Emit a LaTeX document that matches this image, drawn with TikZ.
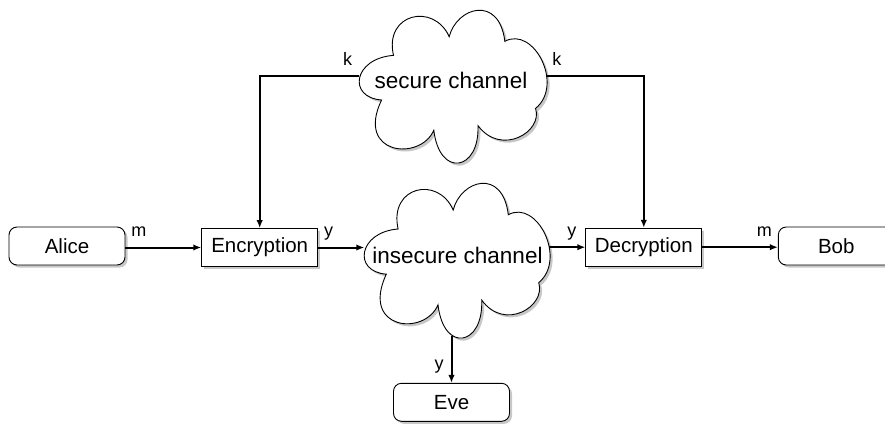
\documentclass[tikz,border=0pt]{standalone}
\usepackage{fontspec}
\setmainfont{Liberation Sans}
\usetikzlibrary{arrows.meta,shadows}

% cloud outline in unit coordinates (x to the right, y downwards)
\newcommand\cloudoutline{(0.19,0.31)
  .. controls (0.14,0.04) and (0.40,-0.03) .. (0.48,0.19)
  .. controls (0.52,0.0) and (0.74,-0.08) .. (0.77,0.22)
  .. controls (0.92,0.12) and (1.08,0.5) .. (0.93,0.65)
  .. controls (0.97,0.80) and (0.75,0.96) .. (0.63,0.76)
  .. controls (0.64,1.05) and (0.43,1.1) .. (0.40,0.79)
  .. controls (0.33,0.99) and (-0.01,0.95) .. (0.128,0.596)
  .. controls (-0.05,0.58) and (-0.02,0.33) .. (0.19,0.31) -- cycle}

% #1 name, #2 top-left corner, #3 width, #4 height
\newcommand\drawcloud[4]{%
  \begin{scope}[shift={#2}, x=#3, y=-#4]
    \fill[black!22, xshift=2.5pt, yshift=-2.5pt] \cloudoutline;
    \draw[line width=0.9pt, fill=white] \cloudoutline;
    \coordinate (#1-l) at (0.012,0.445);
    \coordinate (#1-r) at (0.985,0.445);
    \coordinate (#1-b) at (0.5,0.99);
  \end{scope}}

\tikzset{
  party/.style={draw, line width=0.9pt, fill=white, rounded corners=8pt,
    minimum width=116pt, minimum height=38pt, inner sep=0pt,
    font=\fontsize{20.5}{24}\selectfont,
    drop shadow={shadow xshift=2.5pt, shadow yshift=-2.5pt, fill=black, opacity=0.22}},
  cipherbox/.style={party, rounded corners=0pt},
  chantext/.style={inner sep=0pt, font=\fontsize{22.5}{26}\selectfont},
  conn/.style={line width=2pt, -{Latex[length=8pt,width=6.5pt]}},
  lbl/.style={inner sep=0pt, font=\fontsize{18}{21}\selectfont},
}

\begin{document}
\begin{tikzpicture}[x=1pt, y=-1pt]
  \useasboundingbox (0,0) rectangle (885,423);

  % channels
  \drawcloud{sec}{(357,7)}{192pt}{156pt}
  \drawcloud{ins}{(362,180)}{190pt}{158pt}
  \node[chantext] (secure) at (451,80) {secure channel};
  \node[chantext] (insecure) at (457.5,255.5) {insecure channel};

  % parties and cipher boxes
  \node[party] (alice) at (67,246) {Alice};
  \node[cipherbox] (enc) at (259.7,247.5) {Encryption};
  \node[cipherbox] (dec) at (643.8,247.2) {Decryption};
  \node[party] (bob) at (836.3,246) {Bob};
  \node[party] (eve) at (451.5,402.3) {Eve};

  % message flow
  \draw[conn] (alice.east |- enc.west) -- (enc.west)
    node[lbl, at start, anchor=base west, xshift=5pt, yshift=11pt] (lm1) {m};
  \draw[conn] (enc.east) -- (enc.east -| ins-l)
    node[lbl, at start, anchor=base west, xshift=5pt, yshift=11pt] (ly1) {y};
  \draw[conn] (dec.west -| ins-r) -- (dec.west)
    node[lbl, at end, anchor=base east, xshift=-8pt, yshift=11pt] (ly2) {y};
  \draw[conn] (dec.east) -- (dec.east -| bob.west)
    node[lbl, at end, anchor=base east, xshift=-5pt, yshift=11pt] (lm2) {m};
  \draw[conn] (eve.north |- ins-b) -- (eve.north)
    node[lbl, at end, anchor=base east, xshift=-7pt, yshift=13pt] (ly3) {y};

  % key distribution
  \draw[conn] (sec-l) -| (enc.north);
  \node[lbl, anchor=base east] (lk1) at ([xshift=-7pt, yshift=11pt]sec-l) {k};
  \draw[conn] (sec-r) -| (dec.north);
  \node[lbl, anchor=base west] (lk2) at ([xshift=6pt, yshift=11pt]sec-r) {k};
\end{tikzpicture}
\end{document}
